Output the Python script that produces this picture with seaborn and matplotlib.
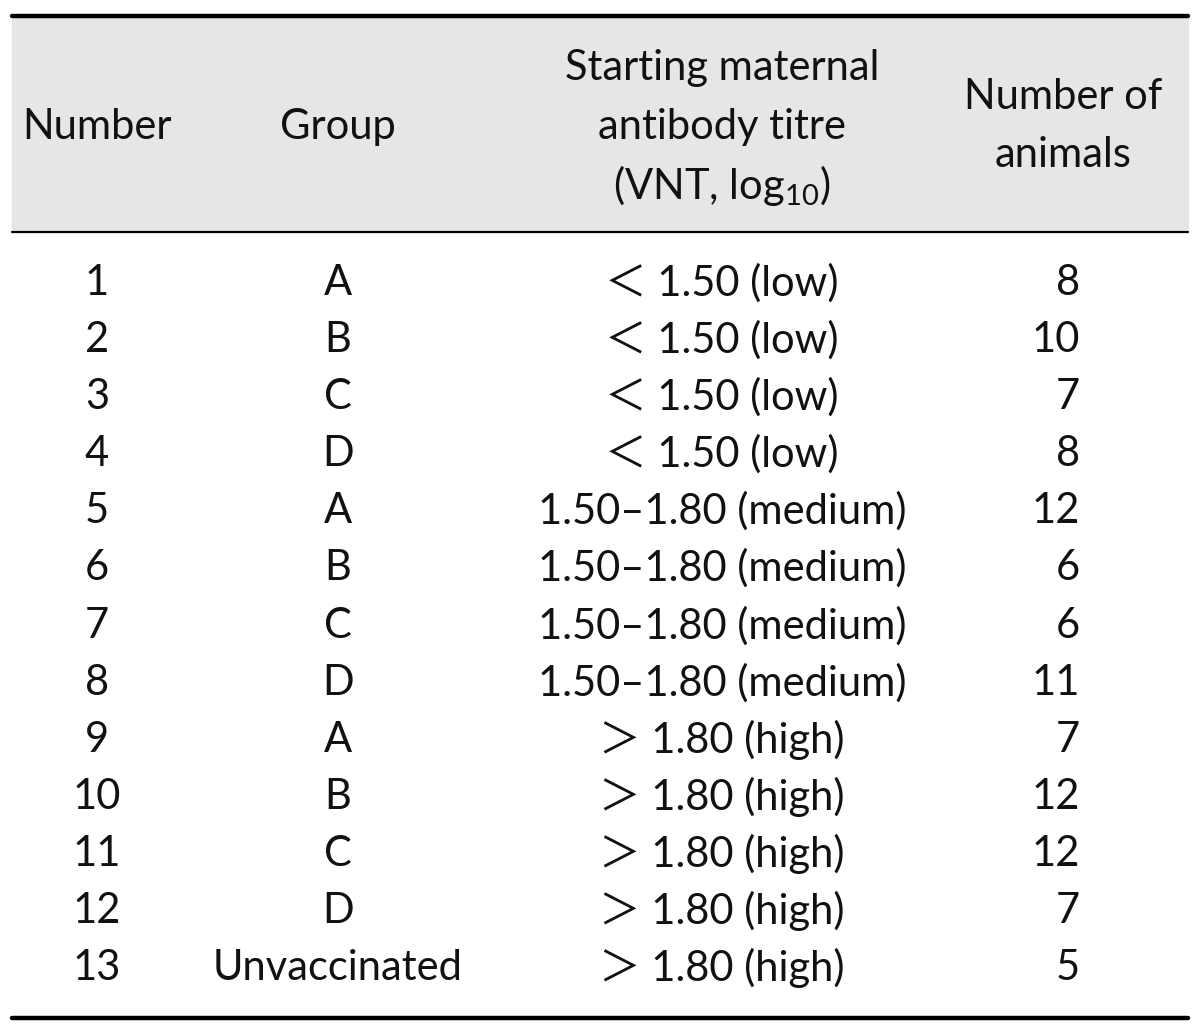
import matplotlib
matplotlib.use("Agg")
import matplotlib.pyplot as plt
import seaborn as sns

# Table contents
numbers = [str(i) for i in range(1, 14)]
groups = ["A", "B", "C", "D", "A", "B", "C", "D", "A", "B", "C", "D", "Unvaccinated"]
titres = ["\uff1c 1.50 (low)"] * 4 + ["1.50\u20131.80 (medium)"] * 4 + ["\uff1e 1.80 (high)"] * 5
animals = [8, 10, 7, 8, 12, 6, 6, 11, 7, 12, 12, 7, 5]

sns.set_theme(style="white")
plt.rcParams["font.family"] = ["Lato", "Noto Sans CJK SC", "DejaVu Sans"]
plt.rcParams["mathtext.fontset"] = "custom"
plt.rcParams["mathtext.rm"] = "Lato"

fig = plt.figure(figsize=(12, 10.33), dpi=100)
ax = fig.add_axes([0, 0, 1, 1])
ax.set_xlim(0, 1200)
ax.set_ylim(1033, 0)
ax.axis("off")

fs = 30
col_num, col_grp, col_tit, col_ani = 97, 338, 722, 1080

# header band and rules
ax.fill_between([12, 1188], 18, 231, color="#e6e6e6", zorder=0)
ax.plot([12, 1188], [16, 16], color="black", lw=3.2)
ax.plot([12, 1188], [232, 232], color="black", lw=1.6)
ax.plot([12, 1188], [1018, 1018], color="black", lw=3.2)

# header
hdr = dict(fontsize=fs, ha="center", va="center", color="#111111")
ax.text(col_num, 127, "Number", **hdr)
ax.text(col_grp, 127, "Group", **hdr)
ax.text(col_tit, 68, "Starting maternal", **hdr)
ax.text(col_tit, 127, "antibody titre", **hdr)
ax.text(col_tit, 185, r"(VNT, log$_{10}$)", **hdr)
ax.text(1063, 97, "Number of", **hdr)
ax.text(1063, 155, "animals", **hdr)

# body rows
y0, dy = 283, 57.1
for i in range(len(numbers)):
    y = y0 + i * dy
    ax.text(col_num, y, numbers[i], fontsize=fs, ha="center", va="center", color="#111111")
    ax.text(col_grp, y, groups[i], fontsize=fs, ha="center", va="center", color="#111111")
    ax.text(col_tit, y, titres[i], fontsize=fs, ha="center", va="center", color="#111111")
    ax.text(col_ani, y, str(animals[i]), fontsize=fs, ha="right", va="center", color="#111111")

fig.savefig("out.png", dpi=100)
